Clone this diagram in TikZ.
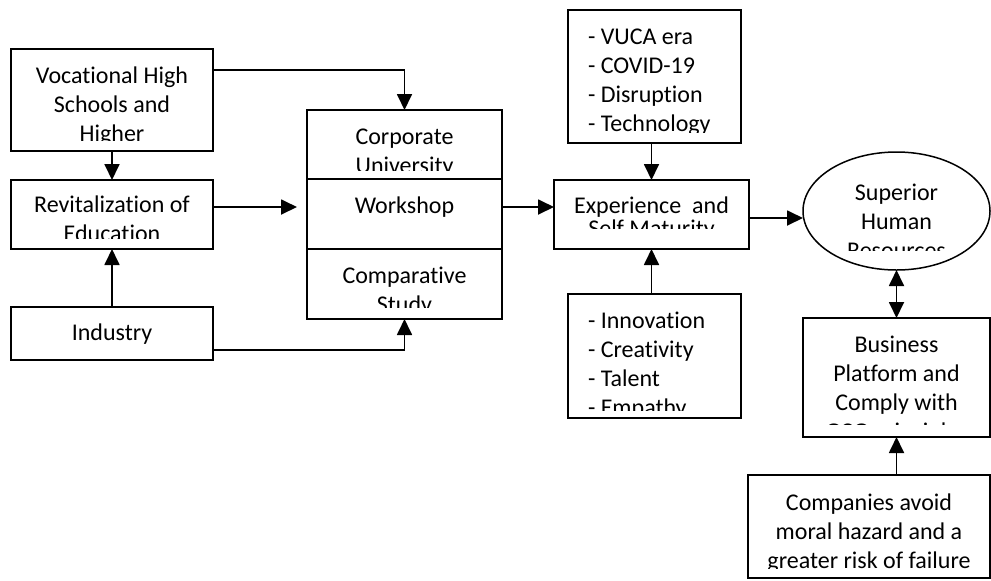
\documentclass[tikz,border=0pt]{standalone}
\usepackage{fontspec}
\setmainfont{Carlito}[Ligatures=NoCommon]
\usetikzlibrary{positioning,arrows.meta,shapes.geometric}
\newcommand{\firstline}{\rule{0pt}{10pt}}

\begin{document}
\begin{tikzpicture}[x=0.5pt,y=-0.5pt,line width=0.9pt,>={Triangle[length=8pt,width=7.5pt]},
  box/.style={draw,line width=0.75pt,inner sep=0pt,outer sep=0pt,minimum width=97.5pt,minimum height=34.5pt},
  txt/.style={rectangle,inner sep=0pt,outer sep=0pt,minimum width=0pt,minimum height=0pt,
    font=\fontsize{12}{14.5}\selectfont},
  midtext/.style n args={3}{path picture={
    \clip ([yshift=#2]path picture bounding box.south west) rectangle (path picture bounding box.north east);
    \node[txt,align=center,anchor=north] at ([yshift=-#1]path picture bounding box.north) {\firstline#3};}},
  listtext/.style n args={2}{path picture={
    \clip ([yshift=#1]path picture bounding box.south west) rectangle (path picture bounding box.north east);
    \node[txt,align=left,anchor=north west] at ([shift={(10pt,-7pt)}]path picture bounding box.north west) {\firstline#2};}}]
  \useasboundingbox (0,0) rectangle (991,580);

  % left column
  \node[box,minimum width=101pt,minimum height=51pt,midtext={7pt}{5.5pt}{Vocational High\\Schools and\\Higher}] (voc) at (112,100) {};
  \node[box,minimum width=101pt,midtext={6pt}{5.5pt}{Revitalization of\\Education}] (rev) at (112,214.5) {};
  \node[box,minimum width=101pt,minimum height=26.5pt,midtext={6.5pt}{0pt}{Industry}] (ind) at (112,333.5) {};

  % middle column
  \node[box,midtext={7pt}{4.5pt}{Corporate\\University}] (corp) at (404.5,144.5) {};
  \node[box,minimum height=35pt,below=0pt of corp,midtext={7pt}{0pt}{Workshop}] (work) {};
  \node[box,minimum height=35pt,below=0pt of work,midtext={7pt}{6pt}{Comparative\\Study}] (comp) {};

  % experience
  \node[box,minimum width=86.5pt,minimum height=66.5pt,listtext={5.5pt}{- VUCA era\\- COVID-19\\- Disruption\\- Technology}] (vuca) at (654.5,76.5) {};
  \node[box,midtext={6.5pt}{10.5pt}{Experience\ \ and\\[-3pt]Self Maturity}] (exp) at (651.5,214.5) {};
  \node[box,minimum width=86.5pt,minimum height=62pt,listtext={4pt}{- Innovation\\- Creativity\\- Talent\\- Empathy}] (innov) at (654.5,356) {};

  % right column
  \node[ellipse,draw,line width=0.75pt,inner sep=0pt,outer sep=0pt,minimum width=93.5pt,minimum height=59pt,midtext={14pt}{10pt}{Superior\\Human\\Resources}] (sup) at (896.5,211) {};
  \node[box,minimum width=93.5pt,minimum height=59.5pt,midtext={7pt}{6.5pt}{Business\\Platform and\\Comply with\\GCG principles}] (bus) at (896.5,377.5) {};
  \node[box,minimum width=121pt,minimum height=51.5pt,midtext={7.5pt}{5pt}{Companies avoid\\moral hazard and a\\greater risk of failure}] (avoid) at (869,526.5) {};

  \draw[->] (voc) -- (rev);
  \draw[->] (ind) -- (rev);
  \draw[->] ([yshift=15pt]voc.east) -| (corp.north);
  \draw[->] ([yshift=-8.25pt]ind.east) -| (comp.south);
  \draw[->,shorten >=5pt] ([yshift=3.75pt]rev.east) -- ([yshift=3.75pt]rev.east -| work.west);
  \draw[->] ([yshift=3.5pt]work.east) -- ([yshift=3.5pt]work.east -| exp.west);
  \draw[->] (vuca.south -| exp.north) -- (exp.north);
  \draw[->] (innov.north -| exp.south) -- (exp.south);
  \draw[->] ([yshift=-1.75pt]exp.east) -- ([yshift=-1.75pt]exp.east -| sup.west);
  \draw[<->] (sup) -- (bus);
  \draw[->] (avoid.north -| bus.south) -- (bus.south);
\end{tikzpicture}
\end{document}
